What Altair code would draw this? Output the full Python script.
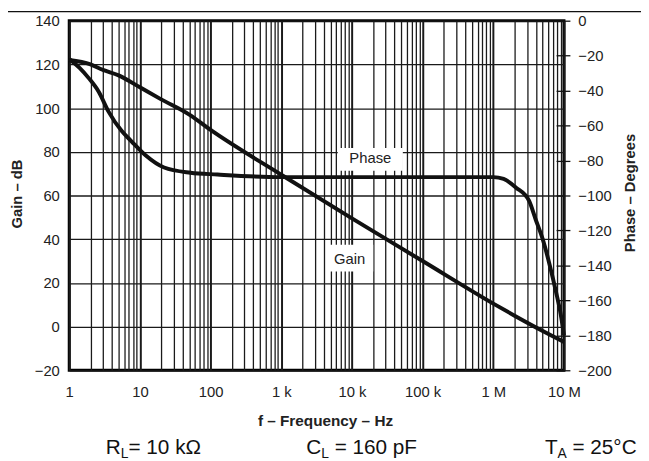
import altair as alt
import pandas as pd

FONT = "Liberation Sans"

# ---- data ----
gain_freq = [1, 2, 3, 5, 10, 20, 50, 100, 1e3, 1e4, 1e5, 1e6, 2e6, 5e6, 1e7]
gain_db = [122, 120, 117.5, 115, 109.5, 104, 97, 90, 69.5, 49.5, 30, 10.5, 5, -2, -7]

phase_freq = [1, 1.4, 1.9, 2.6, 3.6, 5.5, 7.6, 12, 22, 52, 125, 1e3, 1e4, 1e5,
              1e6, 1.4e6, 2.1e6, 3.2e6, 4e6, 5e6, 6.3e6, 7.7e6, 9e6, 1e7]
phase_deg = [-22, -27, -33, -40.5, -52, -63, -69, -77, -84, -87, -88, -89.5, -89.5, -89.5,
             -89.5, -90.5, -95.5, -103, -114, -125, -140, -155, -168, -180]

decades = [1, 10, 100, 1000, 10000, 100000, 1000000, 10000000]
decade_labels = ["1", "10", "100", "1 k", "10 k", "100 k", "1 M", "10 M"]
grid_ticks = [m * 10 ** k for k in range(7) for m in range(1, 10)] + [10 ** 7]
gain_ticks = [-20, 0, 20, 40, 60, 80, 100, 120, 140]
phase_ticks = [-200, -180, -160, -140, -120, -100, -80, -60, -40, -20, 0]

# in-plot curve labels (position in frequency / gain units)
curve_labels = ["Phase", "Gain"]
curve_label_f = [18200, 9300]
curve_label_gain = [77, 31]
box_f1 = [6300, 4570]
box_f2 = [52500, 20000]
box_g1 = [81.7, 37.4]
box_g2 = [71.3, 25.2]

gain_df = pd.DataFrame({"f": gain_freq, "gain": gain_db})
phase_df = pd.DataFrame({"f": phase_freq, "phase": phase_deg})
lab_df = pd.DataFrame({"f": curve_label_f, "gain": curve_label_gain, "label": curve_labels})
box_df = pd.DataFrame({"f": box_f1, "f2": box_f2, "gain": box_g1, "gain2": box_g2})

xscale = alt.Scale(type="log", domain=[1, 1e7], nice=False)
gscale = alt.Scale(domain=[-20, 140], nice=False, zero=False)
pscale = alt.Scale(domain=[-200, 0], nice=False, zero=False)

label_expr = (f"indexof({decades}, datum.value) >= 0 ? "
              f"{decade_labels}[indexof({decades}, datum.value)] : ''")
minus_expr = "datum.value < 0 ? '\u2212' + abs(datum.value) : '' + datum.value"

x_axis = alt.Axis(
    values=grid_ticks, labelExpr=label_expr, grid=True, gridColor="#1a1a1a",
    gridWidth={"condition": {"test": f"indexof({decades}, datum.value) >= 0", "value": 2.0},
               "value": 1.3},
    ticks=False, tickSize=0, domain=False, labelFlush=False, labelOverlap=False,
    labelPadding=15, labelFontSize=15, labelColor="#222",
    title="f \u2013 Frequency \u2013 Hz", titleFontSize=15.5, titleFontWeight="bold",
    titleColor="#222", titleX=259, titleY=56, titleAlign="center", titleBaseline="alphabetic",
)
gain_axis = alt.Axis(
    values=gain_ticks, orient="left", grid=True, gridColor="#1a1a1a", gridWidth=1.3,
    ticks=False, tickSize=0, domain=False, labelPadding=10, labelFontSize=15,
    labelColor="#222", labelExpr=minus_expr, labelFlush=False,
    title="Gain \u2013 dB", titleFontSize=15, titleFontWeight="bold", titleColor="#222",
    titleAngle=270, titleX=-48, titleY=175, titleAlign="center", titleBaseline="alphabetic",
)
phase_axis = alt.Axis(
    values=phase_ticks, orient="right", grid=False, ticks=True, tickSize=14, offset=-8,
    tickColor="#111", tickWidth=1.3, domain=False, labelPadding=8, labelFontSize=15,
    labelColor="#222", labelExpr=minus_expr, labelFlush=False,
    title="Phase \u2013 Degrees", titleFontSize=15, titleFontWeight="bold", titleColor="#222",
    titleAngle=270, titleX=79, titleY=174, titleAlign="center", titleBaseline="alphabetic",
)

X = alt.X("f:Q", scale=xscale, axis=x_axis)
YG = alt.Y("gain:Q", scale=gscale, axis=gain_axis)

boxes = alt.Chart(box_df).mark_rect(color="white").encode(
    x=X, x2="f2:Q", y=YG, y2="gain2:Q")
texts = alt.Chart(lab_df).mark_text(font=FONT, fontSize=15, color="#222",
                                    align="center", baseline="middle").encode(
    x=X, y=YG, text="label:N")
gain_line = alt.Chart(gain_df).mark_line(color="#111", strokeWidth=4,
                                         interpolate="monotone").encode(x=X, y=YG)
phase_line = alt.Chart(phase_df).mark_line(color="#111", strokeWidth=4,
                                           interpolate="monotone").encode(
    x=X, y=alt.Y("phase:Q", scale=pscale, axis=phase_axis))

gain_group = alt.layer(boxes, texts, gain_line)

one = pd.DataFrame({"k": [0]})


def note(txt, px, py, size):
    return alt.Chart(one).mark_text(font=FONT, fontSize=size, color="#111",
                                    align="left", baseline="alphabetic").encode(
        x=alt.value(px), y=alt.value(py), text=alt.value(txt))


header = alt.Chart(one).mark_rule(color="#111", strokeWidth=1.3).encode(
    x=alt.value(-62), x2=alt.value(579), y=alt.value(-9.3))

notes = [
    note("R", 37, 439, 21), note("L", 52.2, 443, 14), note("= 10 k\u03a9", 60, 439, 21),
    note("C", 240, 439, 21), note("L", 255.2, 443, 14), note("= 160 pF", 268.8, 439, 21),
    note("T", 481.7, 439, 21), note("A", 494.5, 443, 14), note("= 25\u00b0C", 509.6, 439, 21),
]

chart = alt.layer(gain_group, phase_line, header, *notes).resolve_scale(
    y="independent"
).properties(
    width=501, height=354,
    padding={"left": 62, "top": 10, "right": 78, "bottom": 89},
    autosize=alt.AutoSizeParams(type="none"),
    background="white",
).configure_view(stroke="#000", strokeWidth=3).configure_axis(
    labelFont=FONT, titleFont=FONT
)

chart.save("out.html", embed_options={"renderer": "svg", "actions": False})
